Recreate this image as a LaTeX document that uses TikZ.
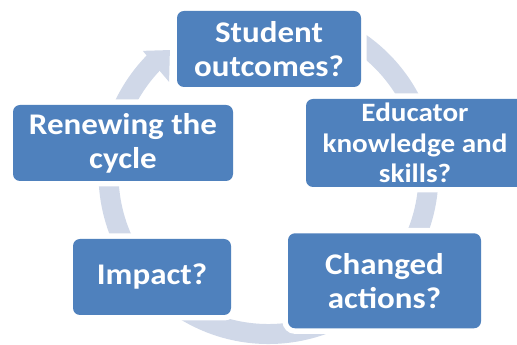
\documentclass[tikz,border=0pt]{standalone}
\usepackage{fontspec}
\setmainfont[FakeStretch=1.1]{Carlito}
\definecolor{boxblue}{RGB}{79,129,189}
\definecolor{ringblue}{RGB}{208,216,232}
\begin{document}
\begin{tikzpicture}[x=1pt,y=1pt,
  box/.style={fill=boxblue, rounded corners=7pt,
    preaction={draw=white, line width=11pt},
    text=white, align=center, inner sep=0pt},
  bigtext/.style={font=\fontsize{30}{34}\selectfont\bfseries},
  smalltext/.style={font=\fontsize{26.5}{30.5}\selectfont\bfseries}]
\useasboundingbox (0,0) rectangle (517,345);
\clip (0,0) rectangle (517,345);
\coordinate (C) at (268.5,171);
% circular arrow behind the boxes
\draw[ringblue, line width=20pt] (C) ++(60:160) arc[start angle=60, end angle=-224.5, radius=160];
\fill[ringblue] ([shift={(135.6:176)}]C) -- ([shift={(128.5:158.4)}]C) -- ([shift={(137.2:135.5)}]C) -- cycle;
% boxes
\node[box, bigtext, minimum width=184pt, minimum height=76pt] (student) at (269,296) {Student\\outcomes?};
\node[box, smalltext, minimum width=218pt, minimum height=88pt] (educator) at (415,202) {Educator\\knowledge and\\skills?};
\node[box, bigtext, minimum width=193pt, minimum height=95pt] (changed) at (384.5,64.2) {Changed\\actions?};
\node[box, bigtext, minimum width=158pt, minimum height=76pt] (impact) at (152,68) {Impact?};
\node[box, bigtext, minimum width=220pt, minimum height=76pt] (renew) at (123,202) {Renewing the\\cycle};
\end{tikzpicture}
\end{document}
